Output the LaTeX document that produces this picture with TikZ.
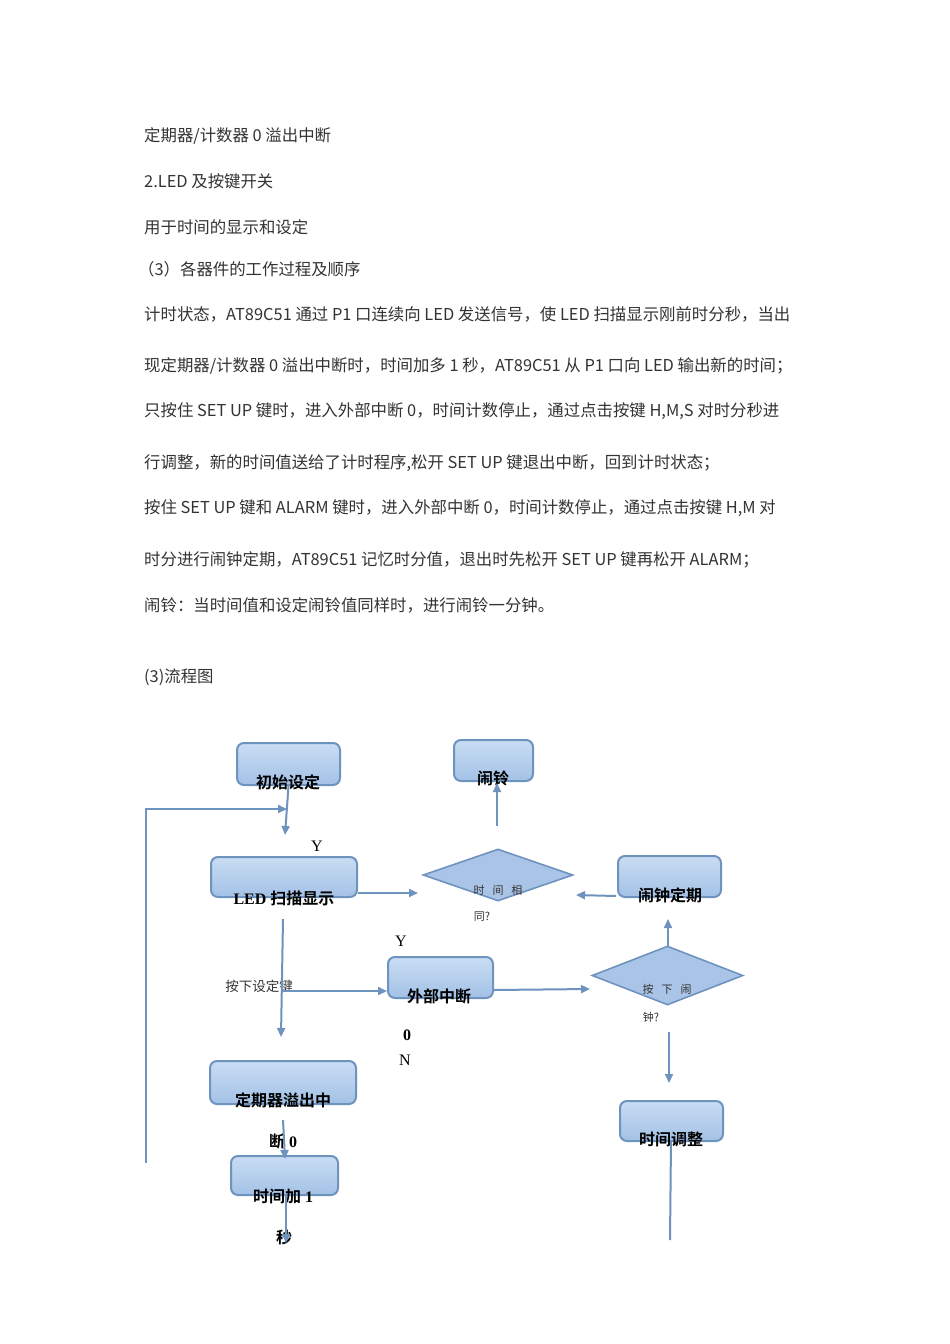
\documentclass[tikz,border=0pt]{standalone}
\usepackage{fontspec}
\setmainfont{Liberation Sans}
\newfontfamily\serif{Liberation Serif}
\newfontfamily\cjk{Noto Sans CJK SC}
\newfontfamily\cjkb{Noto Sans CJK SC}[BoldFont={Noto Sans CJK SC Bold}]
\usetikzlibrary{shapes.geometric,arrows.meta}
\definecolor{bord}{HTML}{6F93BF}
\definecolor{ftop}{HTML}{C9DDF3}
\definecolor{fbot}{HTML}{A3C1E6}
\definecolor{dfill}{HTML}{A9C4E6}
\definecolor{ink}{HTML}{333333}
\begin{document}
\begin{tikzpicture}[x=1pt,y=-1pt,
  body/.style={anchor=west,inner sep=0,text=ink,font=\cjk\fontsize{16.4}{16}\selectfont},
  fbox/.style={draw=bord,line width=2pt,rounded corners=7pt,top color=ftop,bottom color=fbot,inner sep=0},
  dia/.style={diamond,draw=bord,line width=1.6pt,fill=dfill,inner sep=0,aspect=2.6},
  flbl/.style={font=\cjkb\bfseries\fontsize{16}{16}\selectfont,text=black,inner sep=0},
  slbl/.style={font=\cjk\fontsize{11}{11}\selectfont,text=ink,inner sep=0},
  arr/.style={draw=bord,line width=2pt,-{Triangle[length=9pt,width=8pt]}},
  ln/.style={draw=bord,line width=2pt}]
\useasboundingbox (0,0) rectangle (950,1344);
\fill[white] (0,0) rectangle (950,1344);
% text
\node[body] (t1) at (144,136) {定期器/计数器 0 溢出中断};
\node[body] (t2) at (144,181) {2.LED 及按键开关};
\node[body] (t3) at (144,227) {用于时间的显示和设定};
\node[body] (t4) at (138,269) {（3）各器件的工作过程及顺序};
\node[body] (t5) at (144,314) {计时状态，AT89C51 通过 P1 口连续向 LED 发送信号，使 LED 扫描显示刚前时分秒，当出};
\node[body] (t6) at (144,366) {现定期器/计数器 0 溢出中断时，时间加多 1 秒，AT89C51 从 P1 口向 LED 输出新的时间；};
\node[body] (t7) at (144,411) {只按住 SET UP 键时，进入外部中断 0，时间计数停止，通过点击按键 H,M,S 对时分秒进};
\node[body] (t8) at (144,463) {行调整，新的时间值送给了计时程序,松开 SET UP 键退出中断，回到计时状态；};
\node[body] (t9) at (144,508) {按住 SET UP 键和 ALARM 键时，进入外部中断 0，时间计数停止，通过点击按键 H,M 对};
\node[body] (t10) at (144,560) {时分进行闹钟定期，AT89C51 记忆时分值，退出时先松开 SET UP 键再松开 ALARM；};
\node[body] (t11) at (144,605) {闹铃：当时间值和设定闹铃值同样时，进行闹铃一分钟。};
\node[body] (t12) at (144,677) {(3)流程图};
% boxes
\node[fbox,minimum width=103pt,minimum height=42pt] (b1) at (288.5,764) {};
\node[flbl] at (288,782) {初始设定};
\node[fbox,minimum width=79pt,minimum height=41pt] (b2) at (493.5,760.5) {};
\node[flbl] at (493,778) {闹铃};
\node[fbox,minimum width=146pt,minimum height=40pt] (b3) at (284,877) {};
\node[flbl] at (284,898) {\serif\bfseries LED \cjkb\bfseries 扫描显示};
\node[fbox,minimum width=103pt,minimum height=41pt] (b4) at (669.5,876.5) {};
\node[flbl] at (670,895) {闹钟定期};
\node[fbox,minimum width=105pt,minimum height=41pt] (b5) at (440.5,977.5) {};
\node[flbl] at (439,996) {外部中断};
\node[fbox,minimum width=146pt,minimum height=43pt] (b6) at (283,1082.5) {};
\node[flbl] at (283,1100) {定期器溢出中};
\node[fbox,minimum width=107pt,minimum height=39pt] (b7) at (284.5,1175.5) {};
\node[flbl] at (283,1196) {时间加\serif\bfseries\ 1};
\node[fbox,minimum width=103pt,minimum height=40pt] (b8) at (671.5,1121) {};
\node[flbl] at (671,1139) {时间调整};
% diamonds
\node[dia,minimum width=150pt,minimum height=52pt] (d1) at (498,875) {};
\node[slbl] at (498,890) {时\hspace{8pt}间\hspace{8pt}相};
\node[slbl] at (482,917) {同?};
\node[dia,minimum width=151pt,minimum height=59pt] (d2) at (667.5,975.5) {};
\node[slbl] at (667,989) {按\hspace{8pt}下\hspace{8pt}闹};
\node[slbl] at (651,1017) {钟?};
% free labels
\node[flbl] (l0a) at (283,1141) {断\serif\bfseries\ 0};
\node[flbl] (l0b) at (284,1237) {秒};
\node[font=\serif\fontsize{16}{16}\selectfont] (ly1) at (317,846) {Y};
\node[font=\serif\fontsize{16}{16}\selectfont] (ly2) at (401,941) {Y};
\node[font=\serif\bfseries\fontsize{16}{16}\selectfont] (lz) at (407,1035) {0};
\node[font=\serif\fontsize{16}{16}\selectfont] (ln) at (405,1060) {N};
\node[font=\cjk\fontsize{13.5}{13}\selectfont,text=ink,inner sep=0] (lk) at (259,986) {按下设定键};
% coordinates
\coordinate (c1) at (285,835);
\coordinate (f1) at (146,1163);
\coordinate (f2) at (146,809);
\coordinate (f3) at (287,809);
\coordinate (e1) at (358,893);
\coordinate (e2) at (418,893);
\coordinate (u1) at (497,826);
\coordinate (u2) at (497,783);
\coordinate (a1) at (616,896);
\coordinate (a2) at (576,895);
\coordinate (g1) at (283,919);
\coordinate (g2) at (281,1037);
\coordinate (k1) at (283,991);
\coordinate (k2) at (387,991);
\coordinate (m1) at (494,990);
\coordinate (m2) at (590,989);
\coordinate (p1) at (668,946);
\coordinate (p2) at (668,919);
\coordinate (q1) at (669,1032);
\coordinate (q2) at (669,1083);
\coordinate (r1) at (283,1120);
\coordinate (r2) at (285,1159);
\coordinate (s1) at (286,1196);
\coordinate (s2) at (286,1243);
\coordinate (v1) at (671,1141);
\coordinate (v2) at (670,1240);
% connectors
\draw[arr] (b1.south) -- (c1);
\draw[arr] (f1) -- (f2) -- (f3);
\draw[arr] (e1) -- (e2);
\draw[arr] (u1) -- (u2);
\draw[arr] (a1) -- (a2);
\draw[arr] (g1) -- (g2);
\draw[arr] (k1) -- (k2);
\draw[arr] (m1) -- (m2);
\draw[arr] (p1) -- (p2);
\draw[arr] (q1) -- (q2);
\draw[arr] (r1) -- (r2);
\draw[arr] (s1) -- (s2);
\draw[ln] (v1) -- (v2);
\end{tikzpicture}
\end{document}
